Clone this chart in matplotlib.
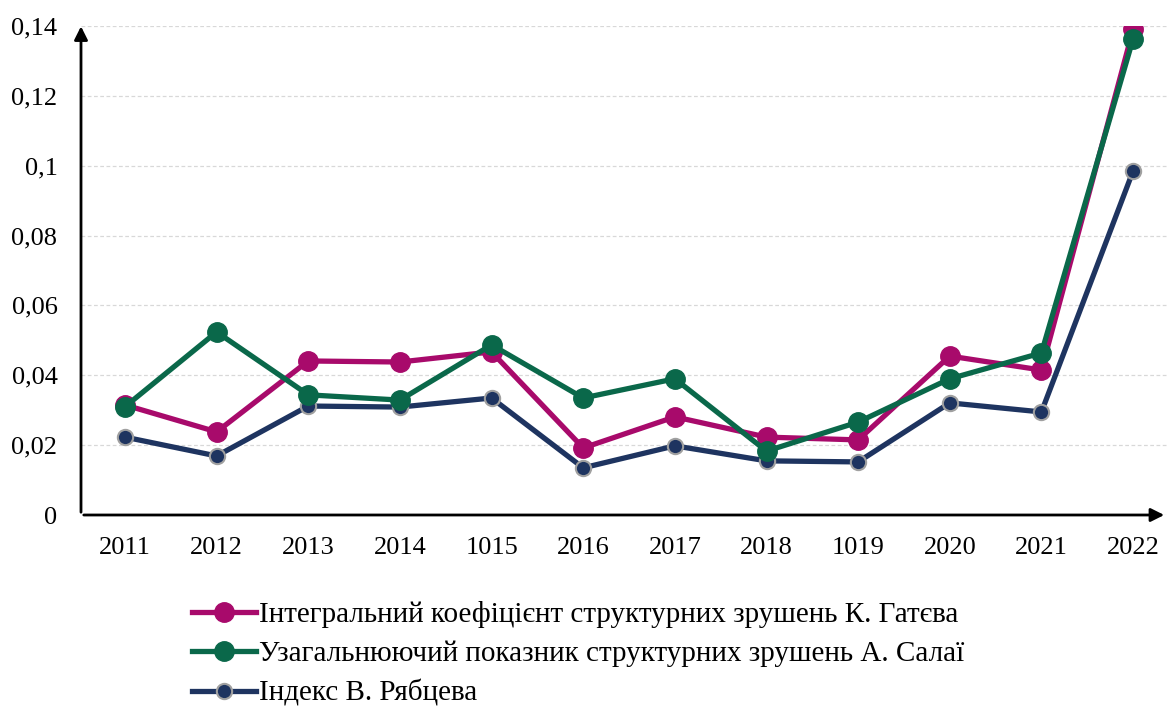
import matplotlib.pyplot as plt
from matplotlib.ticker import FuncFormatter

# 데이터
years = ["2011", "2012", "2013", "2014", "1015", "2016", "2017", "2018", "1019", "2020", "2021", "2022"]
gatev = [0.0315, 0.0238, 0.0441, 0.0438, 0.0467, 0.0192, 0.0281, 0.0223, 0.0215, 0.0455, 0.0415, 0.1390]
salai = [0.0310, 0.0524, 0.0344, 0.0329, 0.0487, 0.0335, 0.0390, 0.0183, 0.0266, 0.0390, 0.0464, 0.1363]
ryabtsev = [0.0223, 0.0169, 0.0312, 0.0309, 0.0335, 0.0135, 0.0198, 0.0155, 0.0152, 0.0321, 0.0295, 0.0985]
labels = ["Інтегральний коефіцієнт структурних зрушень К. Гатєва",
          "Узагальнюючий показник структурних зрушень А. Салаї",
          "Індекс В. Рябцева"]

plt.rcParams['font.family'] = ['Liberation Serif', 'DejaVu Serif']

fig = plt.figure(figsize=(11.67, 7.09), dpi=100)
ax = fig.add_axes([81 / 1167, 194 / 709, 1 - 81 / 1167, 489 / 709])

x = range(len(years))
ax.plot(x, gatev, color='#A80A6B', lw=3.8, marker='o', ms=14, label=labels[0], zorder=3)
ax.plot(x, salai, color='#0A684A', lw=3.8, marker='o', ms=14, label=labels[1], zorder=4)
ax.plot(x, ryabtsev, color='#1E3460', lw=3.8, marker='o', ms=11,
        markeredgecolor='#A0A0A0', markeredgewidth=1.5, label=labels[2], zorder=2)

ax.set_xlim(-0.48, 11.37)
ax.set_ylim(0, 0.14)
ax.set_xticks(list(x))
ax.set_xticklabels(years, fontsize=19)
ax.set_yticks([0, 0.02, 0.04, 0.06, 0.08, 0.1, 0.12, 0.14])
ax.yaxis.set_major_formatter(FuncFormatter(lambda v, p: f"{v:g}".replace('.', ',')))
ax.tick_params(axis='y', labelsize=19, length=0, pad=17)
ax.tick_params(axis='x', length=0, pad=16)
ax.grid(axis='y', color='#D8D8D8', ls=(0, (3, 2)), lw=0.9)
ax.set_axisbelow(True)
for s in ax.spines.values():
    s.set_visible(False)

# 축 화살표
ax.annotate('', xy=(0, 1.005), xytext=(0, 0), xycoords='axes fraction',
            arrowprops=dict(arrowstyle='-|>', color='black', lw=2, mutation_scale=20))
ax.annotate('', xy=(1.0, 0), xytext=(0, 0), xycoords='axes fraction',
            arrowprops=dict(arrowstyle='-|>', color='black', lw=2, mutation_scale=20))

fig.legend(loc='upper left', bbox_to_anchor=(166 / 1167, 1 - 575 / 709), frameon=False,
           fontsize=21, handlelength=2.2, handletextpad=0.1, labelspacing=0.43)

plt.savefig("out.png", dpi=100)
